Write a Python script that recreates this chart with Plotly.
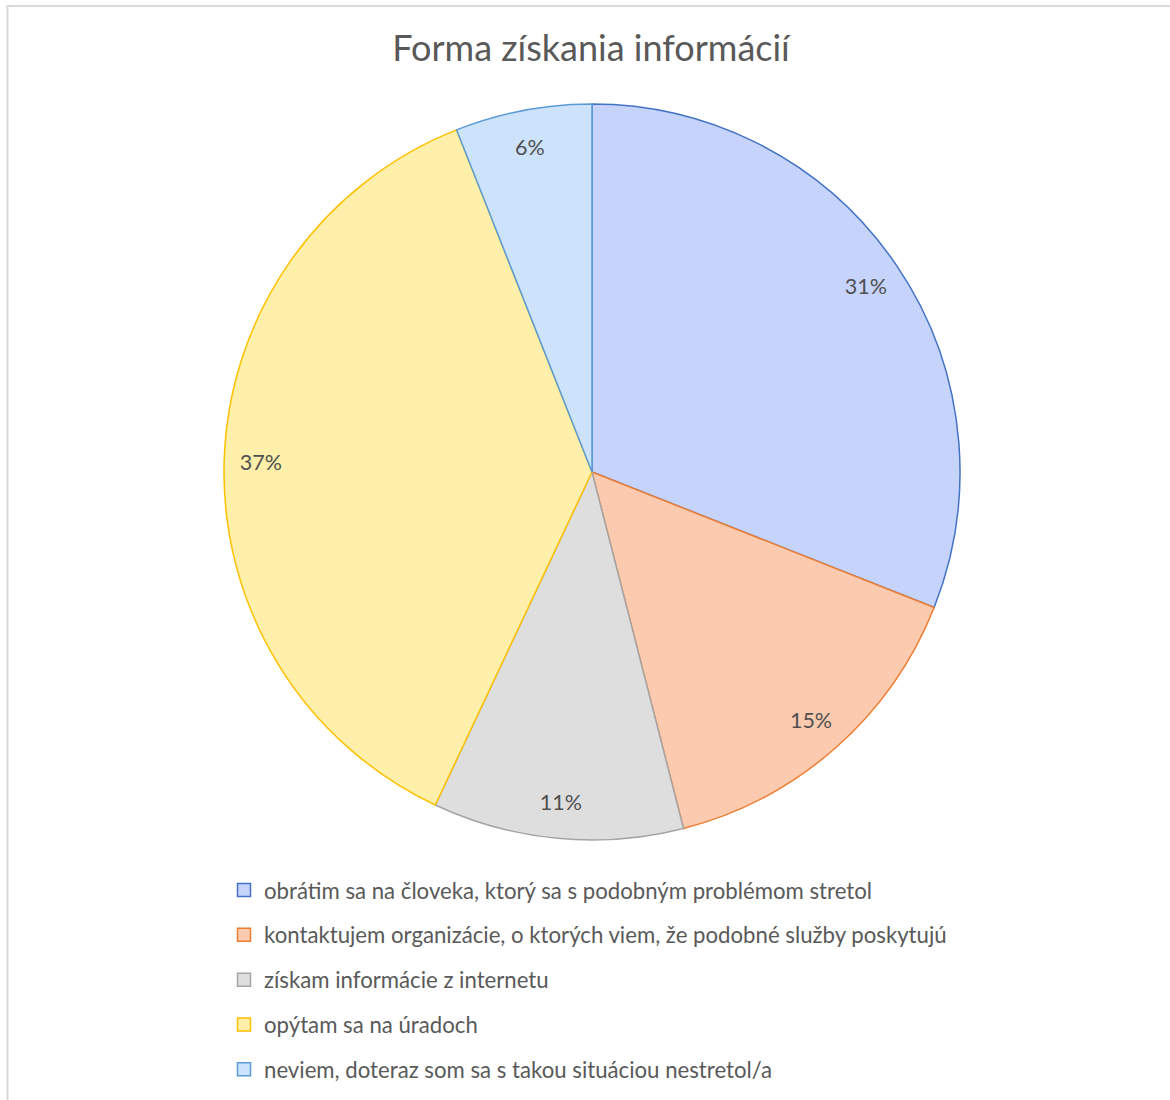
import plotly.graph_objects as go

title = "Forma získania informácií"
categories = [
    "obrátim sa na človeka, ktorý sa s podobným problémom stretol",
    "kontaktujem organizácie, o ktorých viem, že podobné služby poskytujú",
    "získam informácie z internetu",
    "opýtam sa na úradoch",
    "neviem, doteraz som sa s takou situáciou nestretol/a",
]
values = [31, 15, 11, 37, 6]

fill_colors = ["#C6D3FB", "#FCCAAF", "#DEDEDE", "#FEF0AA", "#CCE3FB"]
line_colors = ["#4472C4", "#ED7D31", "#A5A5A5", "#FFC000", "#5B9BD5"]

FONT = "Lato, 'Open Sans', sans-serif"
TXT = "#595959"
W, H = 1170, 1100
dom_x = [224 / W, 960 / W]
dom_y = [1 - 840 / H, 1 - 104 / H]

fig = go.Figure()
# colored pie
fig.add_trace(go.Pie(
    labels=categories, values=values, sort=False, direction="clockwise", rotation=0,
    marker=dict(colors=fill_colors, line=dict(color=line_colors, width=1.5)),
    textinfo="none", hoverinfo="skip", showlegend=False,
    domain=dict(x=dom_x, y=dom_y),
))
# text ring (transparent) to place labels near the outer edge
fig.add_trace(go.Pie(
    labels=categories, values=values, sort=False, direction="clockwise", rotation=0,
    hole=0.8,
    marker=dict(colors=["rgba(0,0,0,0)"] * len(values), line=dict(width=0)),
    texttemplate="%{percent:.0%}", textposition="inside", insidetextorientation="horizontal",
    textfont=dict(family=FONT, size=21.5, color="#505050"),
    hoverinfo="skip", showlegend=False,
    domain=dict(x=dom_x, y=dom_y),
))
# legend entries
for i, (cat, fc, lc) in enumerate(zip(categories, fill_colors, line_colors)):
    fig.add_trace(go.Scatter(
        x=[None], y=[None], mode="markers", name=cat, legendgroup=f"g{i}",
        marker=dict(symbol="square", size=13, color=fc, line=dict(color=lc, width=1.5)),
        showlegend=True,
    ))

fig.update_layout(
    width=W, height=H,
    margin=dict(l=0, r=0, t=0, b=0),
    paper_bgcolor="white", plot_bgcolor="white",
    title=dict(text=title, x=591 / W, xanchor="center", y=1 - 48 / H, yanchor="middle",
               yref="container", font=dict(family=FONT, size=36, color=TXT)),
    xaxis=dict(visible=False), yaxis=dict(visible=False),
    legend=dict(x=224 / W, xanchor="left", y=1 - 869 / H, yanchor="top",
                font=dict(family=FONT, size=22.2, color=TXT),
                traceorder="grouped", tracegroupgap=13, itemwidth=30,
                bgcolor="rgba(0,0,0,0)"),
    showlegend=True,
    shapes=[dict(type="rect", xref="paper", yref="paper",
                 x0=7.5 / W, x1=1.02, y0=-0.02, y1=1 - 6 / H,
                 line=dict(color="#D9D9D9", width=2), fillcolor="rgba(0,0,0,0)", layer="below")],
)

fig.write_html("out.html", config={"displayModeBar": False},
               post_script="document.body.style.margin='0';")
